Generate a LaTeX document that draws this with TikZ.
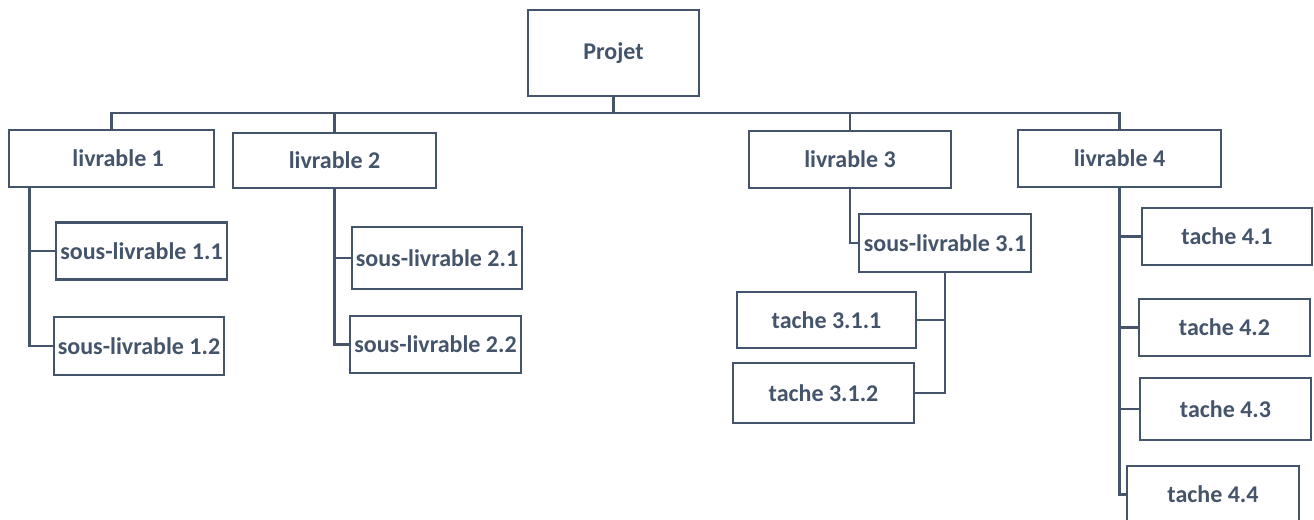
\documentclass[tikz,border=0pt]{standalone}
\usepackage{fontspec}
\setmainfont{Carlito}
\definecolor{slate}{HTML}{44546A}
\newcommand\px{0.75pt}
\tikzset{
  box/.style={draw=slate,line width=2.1pt,text=slate,fill=white,inner sep=1pt,
    font=\bfseries\fontsize{18}{21}\selectfont,minimum height=57*\px},
  link/.style={draw=slate,line width=1.8pt},
}

\begin{document}
\begin{tikzpicture}[x=\px,y=-\px]
\useasboundingbox (0,0) rectangle (1314,519);

\coordinate (bus) at (613.5,113);

\node[box,minimum width=171*\px,minimum height=86*\px] (projet) at (613.5,53) {Projet};

\node[box,minimum width=205*\px] (liv1) at (111.5,158.5) {\hspace*{10pt}livrable 1};
\node[box,minimum width=203*\px,minimum height=55*\px] (liv2) at (334.5,160.5) {livrable 2};
\node[box,minimum width=202*\px] (liv3) at (850,159.5) {livrable 3};
\node[box,minimum width=203*\px] (liv4) at (1119.5,158.5) {livrable 4};

\foreach \n in {liv1,liv2,liv3,liv4}
  \draw[link] (\n.north) |- (bus);
\draw[link] (projet.south) -- (bus);

\node[box,minimum width=171*\px] (sl11) at (141.5,251) {sous-livrable 1.1};
\node[box,minimum width=170*\px,minimum height=58*\px] (sl12) at (139,346) {sous-livrable 1.2};
\node[box,minimum width=170*\px,minimum height=62*\px] (sl21) at (437,258) {sous-livrable 2.1};
\node[box,minimum width=171*\px] (sl22) at (435.5,344.5) {sous-livrable 2.2};
\node[box,minimum width=172*\px,minimum height=58*\px] (sl31) at (945,243) {sous-livrable 3.1};

\draw[link] (liv1.south west) ++(22,0) coordinate (d1) |- (sl11.west);
\draw[link] (d1) |- (sl12.west);
\draw[link] (liv2.south) |- (sl21.west);
\draw[link] (liv2.south) |- (sl22.west);
\draw[link] (liv3.south) |- (sl31.west);

\node[box,minimum width=179*\px,minimum height=56*\px] (t311) at (826.5,320) {tache 3.1.1};
\node[box,minimum width=181*\px,minimum height=60*\px] (t312) at (823.5,393) {tache 3.1.2};

\draw[link] (sl31.south) |- (t311.east);
\draw[link] (sl31.south) |- (t312.east);

\node[box,minimum width=170*\px] (t41) at (1227,236.5) {tache 4.1};
\node[box,minimum width=171*\px] (t42) at (1224.5,327.5) {tache 4.2};
\node[box,minimum width=171*\px,minimum height=62*\px] (t43) at (1225.5,409) {tache 4.3};
\node[box,minimum width=172*\px] (t44) at (1213,494.5) {tache 4.4};

\foreach \n in {t41,t42,t43,t44}
  \draw[link] (liv4.south) |- (\n.west);

\end{tikzpicture}
\end{document}
